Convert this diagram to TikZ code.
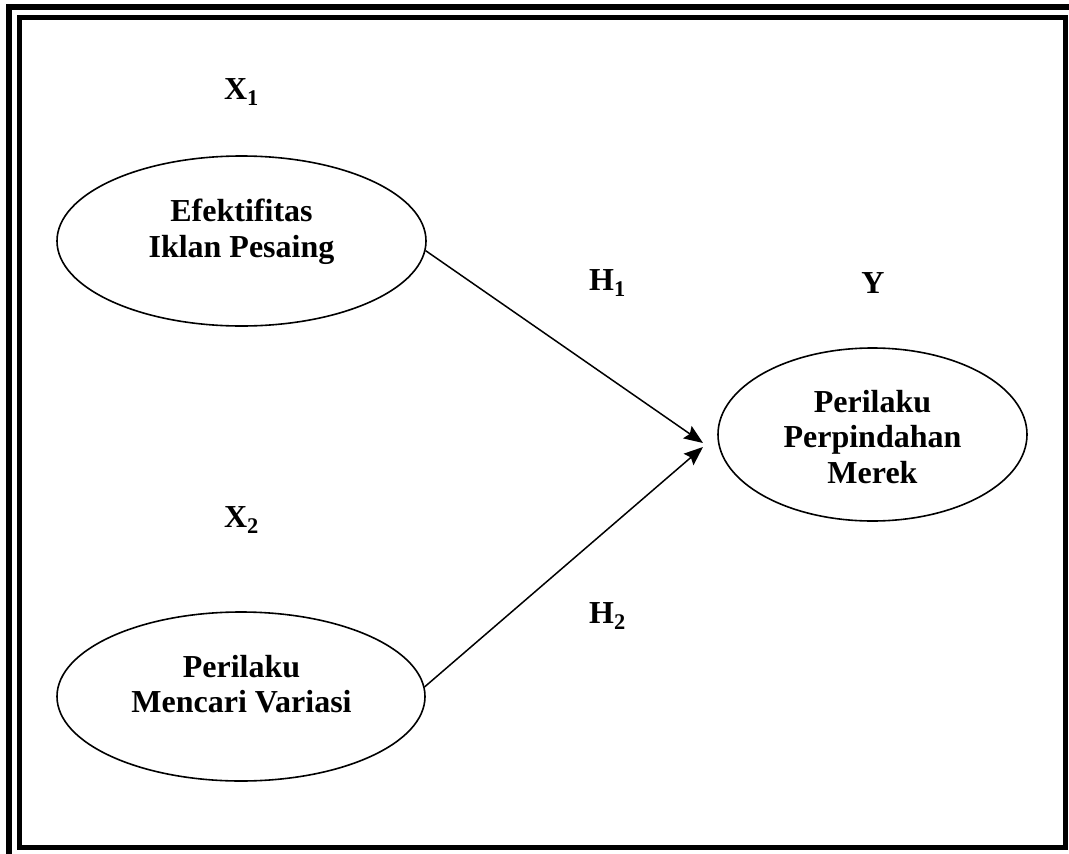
\documentclass[tikz,border=0pt]{standalone}
\usepackage{fontspec}
\setmainfont{Liberation Serif}
\usetikzlibrary{shapes.geometric,arrows.meta}
\begin{document}
\begin{tikzpicture}[x=1pt,y=-1pt,
  oval/.style={draw,ellipse,line width=1.6pt,inner sep=0pt},
  txt/.style={align=center,inner sep=0pt,font=\bfseries\fontsize{32}{35.5}\selectfont},
  lbl/.style={anchor=base,inner sep=0pt,font=\bfseries\fontsize{32}{35.5}\selectfont},
  conn/.style={line width=1.5pt,-{Stealth[length=19pt,width=15pt,inset=3pt]}}]
\useasboundingbox (0,0) rectangle (1069,854);
\clip (0,0) rectangle (1069,854);
% double frame
\draw[line width=6pt] (9,7) rectangle (1078,860);
\draw[line width=5pt] (19.5,17.5) rectangle (1065.5,847.5);
% ellipses
\node[oval,minimum width=369pt,minimum height=170pt] (e1) at (241.5,241) {};
\node[oval,minimum width=368pt,minimum height=169pt] (e2) at (241,696.5) {};
\node[oval,minimum width=309pt,minimum height=173pt] (e3) at (872.5,434.5) {};
% texts in ellipses
\node[txt] (e1t) at (241.5,232) {Efektifitas\\Iklan Pesaing};
\node[txt] (e2t) at (241.5,684) {Perilaku\\Mencari Variasi};
\node[txt] (e3t) at (872.5,437) {Perilaku\\Perpindahan\\Merek};
% labels
\node[lbl] (x1) at (241.5,99.5) {X\textsubscript{1}};
\node[lbl] (x2) at (241.5,527.5) {X\textsubscript{2}};
\node[lbl] (h1) at (607.5,290) {H\textsubscript{1}};
\node[lbl] (h2) at (607.5,623) {H\textsubscript{2}};
\node[lbl] (y) at (873,293) {Y};
% arrows
\coordinate (t1) at (703,443);
\coordinate (t2) at (703,447);
\draw[conn] (e1.-3.4) -- (t1);
\draw[conn] (e2.3.6) -- (t2);
\end{tikzpicture}
\end{document}
